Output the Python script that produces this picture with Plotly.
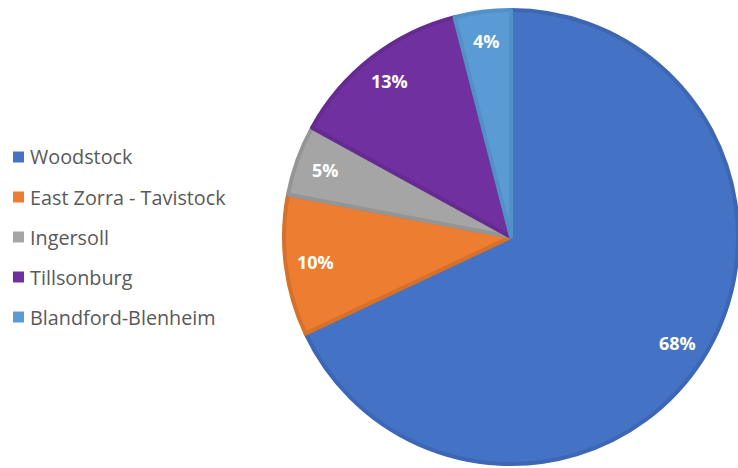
import math
import plotly.graph_objects as go

# Share of population by municipality
labels = ["Woodstock", "East Zorra - Tavistock", "Ingersoll", "Tillsonburg", "Blandford-Blenheim"]
shares = [68, 10, 5, 13, 4]
fill_colors = ["#4472C4", "#ED7D31", "#A5A5A5", "#7030A0", "#5B9BD5"]
edge_colors = ["#3D67B4", "#D6712C", "#959595", "#652B90", "#5290C8"]

W, H = 738, 468
dom_x = [284 / W, 1.0]
dom_y = [4 / H, 458 / H]

fig = go.Figure(
    go.Pie(
        labels=labels,
        values=shares,
        sort=False,
        direction="clockwise",
        rotation=0,
        textinfo="none",
        hoverinfo="label+percent",
        marker=dict(colors=fill_colors, line=dict(color=edge_colors, width=4)),
        domain=dict(x=dom_x, y=dom_y),
        showlegend=False,
    )
)

# Pie geometry in pixels, used to place the percentage labels
cx = (dom_x[0] + dom_x[1]) / 2 * W
cy = H - (dom_y[0] + dom_y[1]) / 2 * H
radius = min((dom_x[1] - dom_x[0]) * W, (dom_y[1] - dom_y[0]) * H) / 2

annotations = []
total = sum(shares)
acc = 0
for val in shares:
    mid = (acc + val / 2) / total * 2 * math.pi
    acc += val
    r = radius * 0.87
    px = cx + r * math.sin(mid)
    py = cy - r * math.cos(mid)
    annotations.append(dict(
        x=px / W, y=1 - py / H, xref="paper", yref="paper",
        text=f"<b>{val}%</b>", showarrow=False,
        font=dict(family="Open Sans", size=18, color="white"),
        xanchor="center", yanchor="middle",
    ))

# Legend drawn on the left
shapes = []
leg_x0, leg_y0, leg_step, sq = 13, 157, 40, 11
for i, (lab, col) in enumerate(zip(labels, fill_colors)):
    yc = leg_y0 + i * leg_step
    shapes.append(dict(
        type="rect", xref="paper", yref="paper",
        x0=leg_x0 / W, x1=(leg_x0 + sq) / W,
        y0=1 - (yc + sq / 2) / H, y1=1 - (yc - sq / 2) / H,
        fillcolor=col, line=dict(width=0),
    ))
    annotations.append(dict(
        x=(leg_x0 + sq + 4) / W, y=1 - yc / H, xref="paper", yref="paper",
        text=lab, showarrow=False, xanchor="left", yanchor="middle",
        font=dict(family="Open Sans", size=19.8, color="#595959"),
    ))

fig.update_layout(
    width=W, height=H,
    margin=dict(l=0, r=0, t=0, b=0),
    paper_bgcolor="white",
    plot_bgcolor="white",
    annotations=annotations,
    shapes=shapes,
)

fig.write_html("out.html")
